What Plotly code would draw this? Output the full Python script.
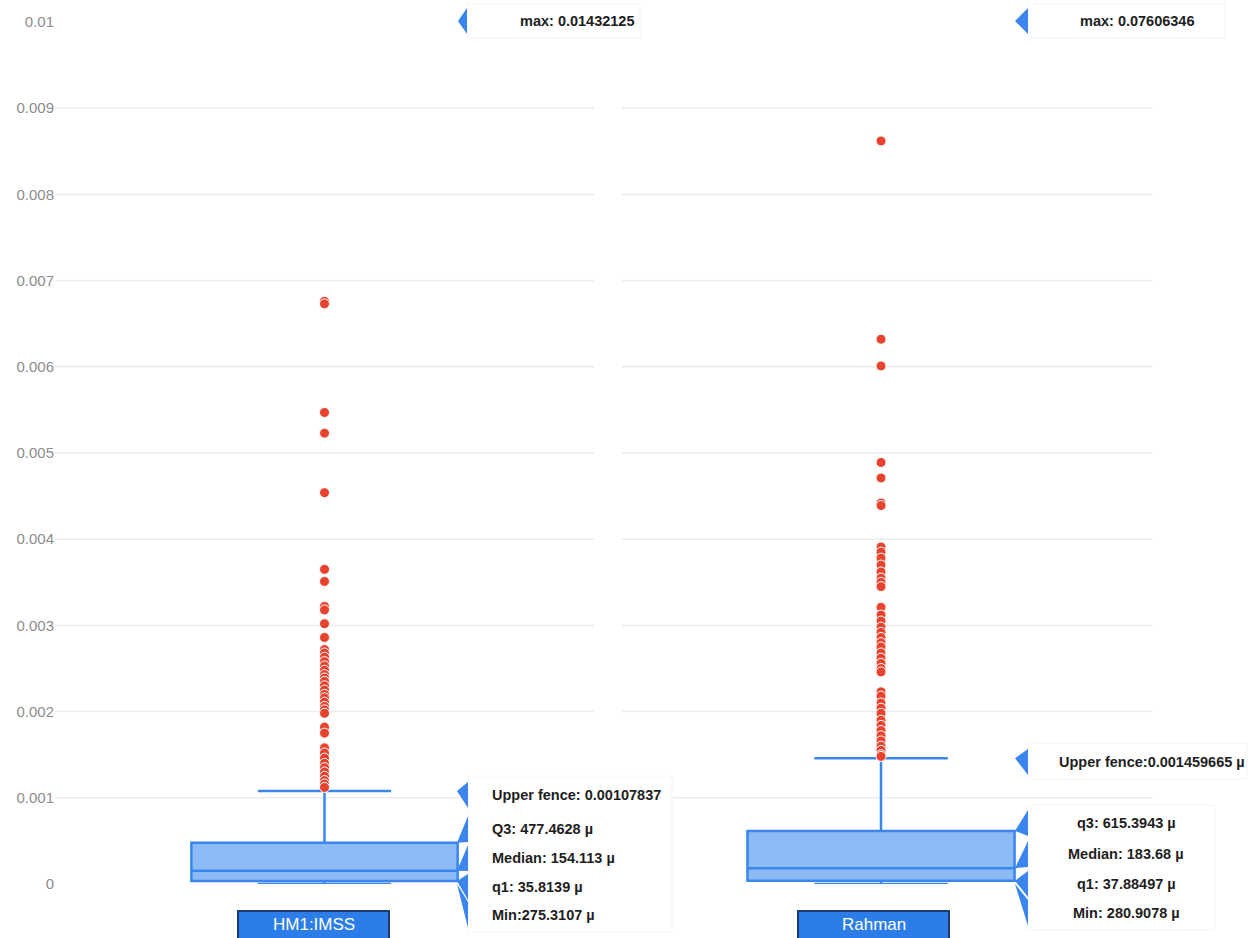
import plotly.graph_objects as go

# ---- data -------------------------------------------------------------
categories = ["HM1:IMSS", "Rahman"]
q1_vals = [35.8139e-6, 37.88497e-6]
median_vals = [154.113e-6, 183.68e-6]
q3_vals = [477.4628e-6, 615.3943e-6]
upper_fence_vals = [0.00107837, 0.001459665]
min_vals = [275.3107e-9, 280.9078e-9]
max_vals = [0.01432125, 0.07606346]

outliers_hm1 = [
    0.01432125, 0.00676, 0.00673, 0.00547, 0.00523, 0.00454, 0.00365, 0.00351,
    0.00322, 0.00318, 0.00302, 0.00286, 0.00272, 0.00268, 0.00263, 0.00258,
    0.00253, 0.00248, 0.00243, 0.00239, 0.00235, 0.00230, 0.00225, 0.00220,
    0.00216, 0.00211, 0.00206, 0.00202, 0.00198, 0.00182, 0.00175, 0.00158,
    0.00152, 0.00146, 0.00140, 0.00135, 0.00130, 0.00125, 0.00120, 0.00116,
    0.00112,
]
outliers_rahman = [
    0.07606346, 0.00862, 0.00632, 0.00601, 0.00489, 0.00471, 0.00442, 0.00439,
    0.00391, 0.00385, 0.00378, 0.00370, 0.00362, 0.00355, 0.00350, 0.00345,
    0.00321, 0.00312, 0.00305, 0.00298, 0.00292, 0.00286, 0.00280, 0.00275,
    0.00268, 0.00262, 0.00256, 0.00250, 0.00246, 0.00223, 0.00218, 0.00210,
    0.00204, 0.00198, 0.00190, 0.00184, 0.00178, 0.00172, 0.00166, 0.00160,
    0.00155, 0.00150, 0.00148,
]

y_ticks = [0, 0.001, 0.002, 0.003, 0.004, 0.005, 0.006, 0.007, 0.008, 0.009, 0.01]
y_tick_labels = ["0", "0.001", "0.002", "0.003", "0.004", "0.005",
                 "0.006", "0.007", "0.008", "0.009", "0.01"]

max_labels = ["max: 0.01432125", "max: 0.07606346"]
stat_labels = [
    ["Upper fence: 0.00107837", "Q3: 477.4628 µ", "Median: 154.113 µ",
     "q1: 35.8139 µ", "Min:275.3107 µ"],
    ["Upper fence:0.001459665 µ", "q3: 615.3943 µ", "Median: 183.68 µ",
     "q1: 37.88497 µ", "Min: 280.9078 µ"],
]

# ---- geometry helpers ---------------------------------------------------
W, H = 1259, 938
ML, MR, MT, MB = 55, 106, 22, 54
PW, PH = W - ML - MR, H - MT - MB
Y_MAX = y_ticks[-1]


def px(x):
    return (x - ML) / PW


def py(y):
    return (H - MB - y) / PH


def vy(v):
    # data value -> paper y (the y range spans the full plot height)
    return v / Y_MAX


BLUE = "#3a86ee"
FILL = "#8bbaf5"
RED = "#e8432f"
FONT = "Liberation Sans, Arial, sans-serif"

panels = [
    dict(xa="x", ya="y", center=0.0, width=0.494, tip=457, base=468,
         rows=[795, 829, 858, 887, 915],
         text_pos=[(490, "left")] * 5,
         stack_boxes=[(468, 672, 776, 932)],
         max_tip=458, max_base=467, max_text=518, max_box=(467, 640, 4, 38),
         cat_box=(238, 389)),
    dict(xa="x2", ya="y2", center=0.0, width=0.503, tip=1015, base=1028,
         rows=[762, 823, 854, 884, 913],
         text_pos=[(1057, "left")] + [(1126, "center")] * 4,
         stack_boxes=[(1027, 1247, 743, 779), (1027, 1215, 805, 930)],
         max_tip=1015, max_base=1028, max_text=1078, max_box=(1028, 1225, 4, 38),
         cat_box=(798, 949)),
]

fig = go.Figure()
shapes = []
annotations = []

outlier_sets = [outliers_hm1, outliers_rahman]

for i, p in enumerate(panels):
    fig.add_trace(go.Box(
        x=[p["center"]], q1=[q1_vals[i]], median=[median_vals[i]], q3=[q3_vals[i]],
        lowerfence=[min_vals[i]], upperfence=[upper_fence_vals[i]],
        width=p["width"], whiskerwidth=0.5, fillcolor=FILL,
        line=dict(color=BLUE, width=2.5), boxpoints=False,
        xaxis=p["xa"], yaxis=p["ya"], showlegend=False, hoverinfo="skip",
        name=categories[i],
    ))
    pts = outlier_sets[i]
    fig.add_trace(go.Scatter(
        x=[p["center"]] * len(pts), y=pts, mode="markers",
        marker=dict(color=RED, size=10, line=dict(color="white", width=1)),
        xaxis=p["xa"], yaxis=p["ya"], showlegend=False, hoverinfo="skip",
    ))

    # horizontal grid lines
    dom = p["xa"] + " domain"
    for v in y_ticks[1:-1]:
        shapes.append(dict(type="line", xref=dom, yref=p["ya"], x0=0, x1=1,
                           y0=v, y1=v, layer="below",
                           line=dict(color="#ebebeb", width=1.5)))

    # white tooltip panels
    for (x0, x1, y0, y1) in p["stack_boxes"] + [p["max_box"]]:
        shapes.append(dict(type="rect", xref="paper", yref="paper",
                           x0=px(x0), x1=px(x1), y0=py(y1), y1=py(y0),
                           fillcolor="white", line=dict(color="#f4f4f4", width=1),
                           layer="above"))

    # pointer triangles for each statistic
    stat_vals = [upper_fence_vals[i], q3_vals[i], median_vals[i], q1_vals[i], min_vals[i]]
    for v, row in zip(stat_vals, p["rows"]):
        path = (f"M {px(p['tip'])},{vy(v)} L {px(p['base'])},{py(row - 13)} "
                f"L {px(p['base'])},{py(row + 13)} Z")
        shapes.append(dict(type="path", xref="paper", yref="paper", path=path,
                           fillcolor=BLUE, line=dict(width=0), layer="above"))
    # pointer for the max value (off the top of the axis)
    path = (f"M {px(p['max_tip'])},{py(21)} L {px(p['max_base'])},{py(8)} "
            f"L {px(p['max_base'])},{py(34)} Z")
    shapes.append(dict(type="path", xref="paper", yref="paper", path=path,
                       fillcolor=BLUE, line=dict(width=0), layer="above"))

    for text, row, (tx, anchor) in zip(stat_labels[i], p["rows"], p["text_pos"]):
        annotations.append(dict(text=text, xref="paper", yref="paper",
                                x=px(tx), y=py(row), xanchor=anchor, yanchor="middle",
                                showarrow=False,
                                font=dict(family=FONT, size=14.5, color="#1e1e1e",
                                          weight="bold")))
    annotations.append(dict(text=max_labels[i], xref="paper", yref="paper",
                            x=px(p["max_text"]), y=py(21), xanchor="left",
                            yanchor="middle", showarrow=False,
                            font=dict(family=FONT, size=14.5, color="#1e1e1e",
                                      weight="bold")))

    # category label badge
    cx0, cx1 = p["cat_box"]
    shapes.append(dict(type="rect", xref="paper", yref="paper",
                       x0=px(cx0), x1=px(cx1), y0=py(950), y1=py(911),
                       fillcolor="#2d7de8", line=dict(color="#1d3b6e", width=2),
                       layer="above"))
    annotations.append(dict(text=categories[i], xref="paper", yref="paper",
                            x=px((cx0 + cx1) / 2), y=py(925), xanchor="center",
                            yanchor="middle", showarrow=False,
                            font=dict(family=FONT, size=17, color="white")))

axis_off = dict(showgrid=False, zeroline=False, showticklabels=False,
                showline=False, ticks="")

fig.update_layout(
    width=W, height=H,
    margin=dict(l=ML, r=MR, t=MT, b=MB, pad=0),
    paper_bgcolor="white", plot_bgcolor="white",
    showlegend=False,
    xaxis=dict(domain=[0, px(594)], range=[-0.5, 0.5], **axis_off),
    xaxis2=dict(domain=[px(622), 1], range=[-0.4878, 0.5122], anchor="y2", **axis_off),
    yaxis=dict(range=[0, Y_MAX], tickvals=y_ticks, ticktext=y_tick_labels,
               showgrid=False, zeroline=False, showline=False, ticks="",
               tickfont=dict(family=FONT, size=15, color="#8c8c8c")),
    yaxis2=dict(matches="y", anchor="x2", **axis_off),
    shapes=shapes,
    annotations=annotations,
)

fig.write_html("out.html")
